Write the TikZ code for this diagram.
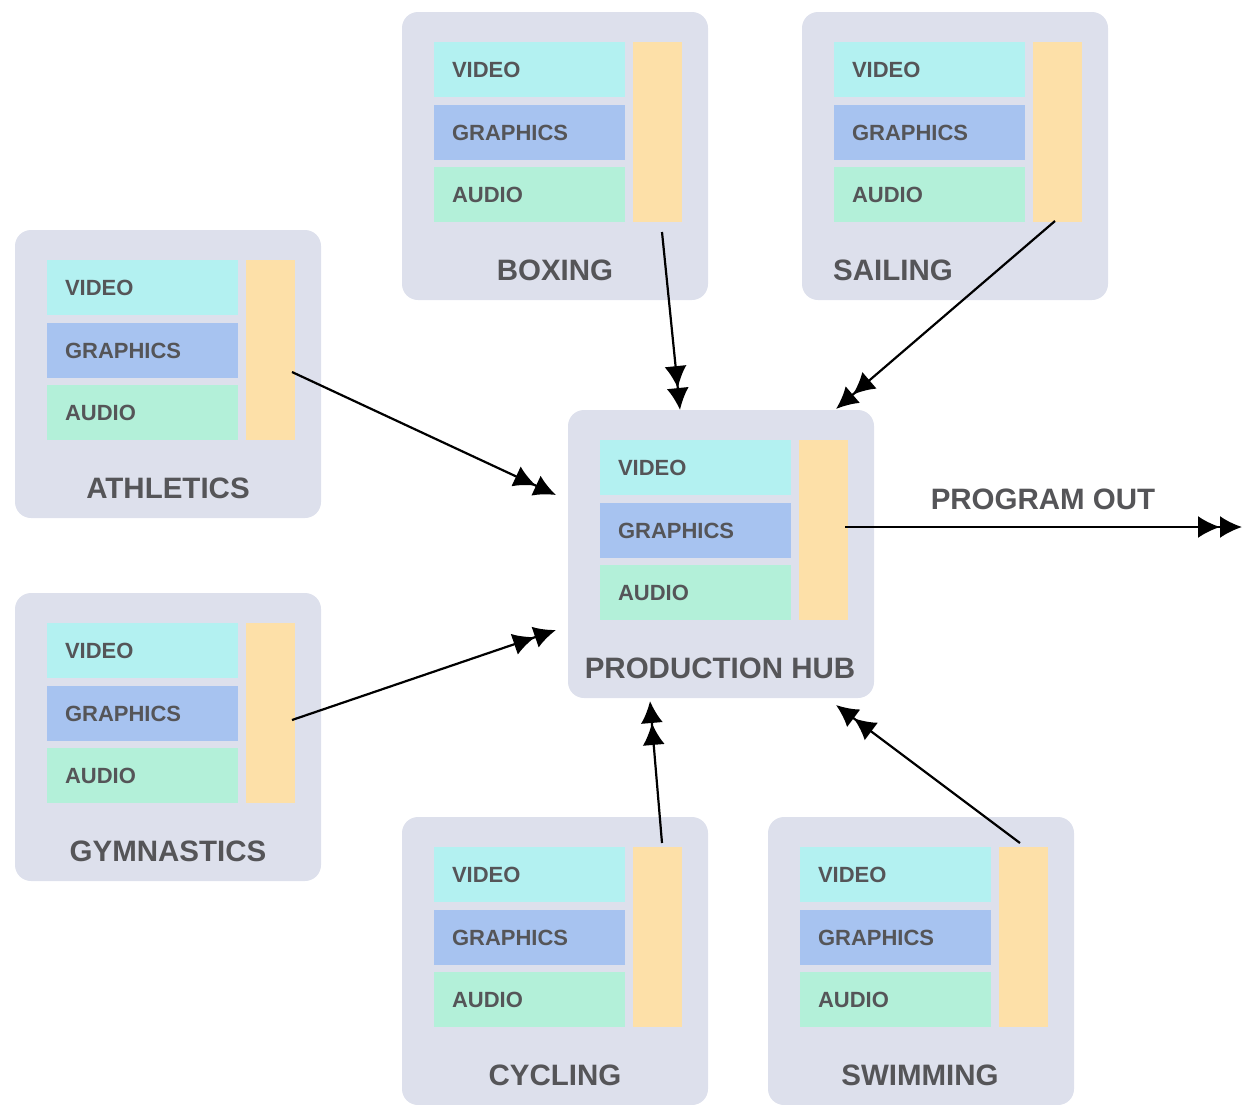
\documentclass[tikz,border=0pt]{standalone}
\usepackage{fontspec}
\setmainfont{Liberation Sans}
\usetikzlibrary{arrows.meta,calc}
\definecolor{panel}{HTML}{DDE0EC}
\definecolor{vidc}{HTML}{B3F1F1}
\definecolor{grac}{HTML}{A7C3F0}
\definecolor{audc}{HTML}{B3F0D9}
\definecolor{orac}{HTML}{FDE0A8}
\definecolor{txt}{HTML}{555558}
\tikzset{
  panelbox/.style={fill=panel,draw=none,rounded corners=16pt,minimum width=306pt,minimum height=288pt,inner sep=0pt},
  layer/.style={draw=none,minimum height=55pt,text width=155pt,inner xsep=18pt,inner ysep=0pt,align=left,
     font=\fontsize{22}{25}\selectfont\bfseries,text=txt},
  barbox/.style={fill=orac,draw=none,minimum width=49pt,minimum height=180pt,inner sep=0pt},
  title/.style={font=\fontsize{29.5}{33}\selectfont\bfseries,text=txt,inner sep=0pt},
  feed/.style={line width=2.2pt,-{Latex[length=22pt,width=22pt]Latex[length=22pt,width=22pt]}},
}
\newcommand\stationbox[5]{%
  \node[panelbox] (#1) at (#2+153,#3+144) {};
  \node[layer,fill=vidc] (#1-v) at (#2+127.5,#3+57.5) {VIDEO};
  \node[layer,fill=grac] (#1-g) at (#2+127.5,#3+120.5) {GRAPHICS};
  \node[layer,fill=audc] (#1-a) at (#2+127.5,#3+182.5) {AUDIO};
  \node[barbox] (#1-o) at (#2+255.5,#3+120) {};
  \node[title] (#1-l) at (#5,#3+258) {#4};
}
\begin{document}
\begin{tikzpicture}[x=1pt,y=-1pt]
\useasboundingbox (0,0) rectangle (1242,1104);
\stationbox{boxing}{402}{12}{BOXING}{555}
\stationbox{sailing}{802}{12}{SAILING}{893}
\stationbox{athletics}{15}{230}{ATHLETICS}{168}
\stationbox{gymnastics}{15}{593}{GYMNASTICS}{168}
\stationbox{hub}{568}{410}{PRODUCTION HUB}{720}
\stationbox{cycling}{402}{817}{CYCLING}{555}
\stationbox{swimming}{768}{817}{SWIMMING}{920}
\node[title] (progout) at (1043,499) {PROGRAM OUT};
% connector end points
\coordinate (boxS) at (662,232);
\coordinate (boxE) at (680,410);
\coordinate (saiS) at (1055,221);
\coordinate (saiE) at (836,409);
\coordinate (athS) at (292,372);
\coordinate (athE) at (556,495);
\coordinate (gymS) at (292,720);
\coordinate (gymE) at (556,630);
\coordinate (cycS) at (662,843);
\coordinate (cycE) at (650,701);
\coordinate (swiS) at (1020,843);
\coordinate (swiE) at (836,705);
\coordinate (outS) at (845,527);
\coordinate (outE) at (1242,527);
\draw[feed] (boxS) -- (boxE);
\draw[feed] (saiS) -- (saiE);
\draw[feed] (athS) -- (athE);
\draw[feed] (gymS) -- (gymE);
\draw[feed] (cycS) -- (cycE);
\draw[feed] (swiS) -- (swiE);
\draw[feed] (outS) -- (outE);
\end{tikzpicture}
\end{document}
